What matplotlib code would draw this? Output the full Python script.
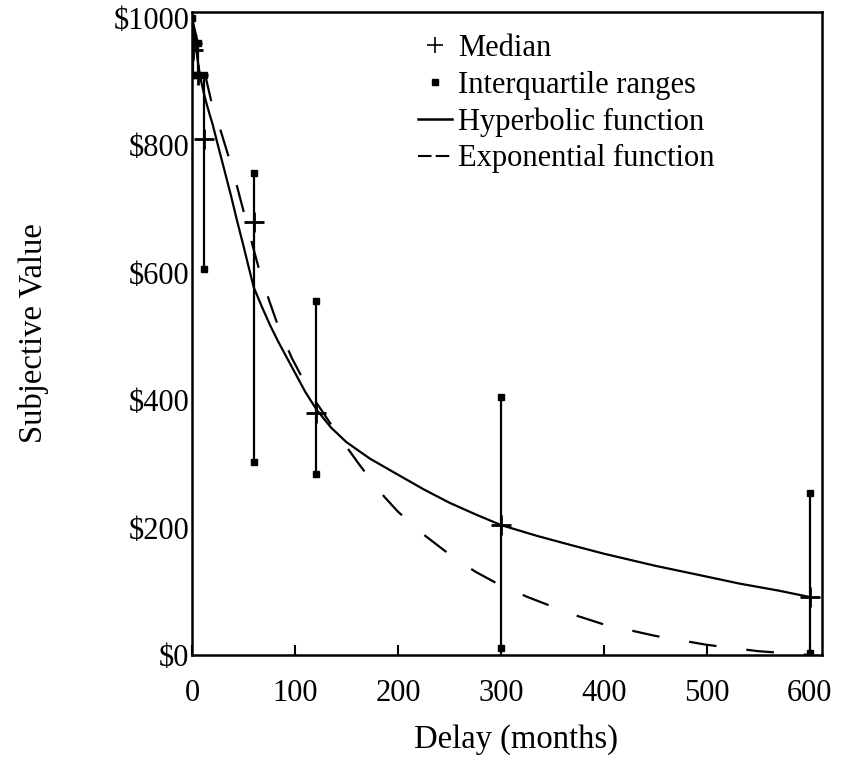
import numpy as np
import matplotlib
matplotlib.use('Agg')
import matplotlib.pyplot as plt
from matplotlib.lines import Line2D

plt.rcParams['font.family'] = ['Liberation Serif', 'DejaVu Serif']

# delays in months and medians / quartiles
delays = [0.25, 1, 6, 12, 60, 120, 300, 600]
median = [960, 950, 910, 810, 680, 380, 204, 91]
q1 = [910, 910, 910, 605, 303, 284, 11, 3]
q3 = [1000, 970, 960, 910, 757, 556, 405, 254]

# fitted curves
hyp_d = [0, 2, 4, 6, 8, 11, 14, 17, 20, 25, 30, 34, 38, 44, 50, 55, 60, 68, 76, 84, 92,
         100, 110, 121, 135, 150, 173, 200, 225, 250, 275, 300, 335, 367, 400, 450,
         500, 532, 570, 600]
hyp_v = [1000, 975, 950, 928, 907, 885, 866, 849, 833, 801, 770, 745, 720, 680, 642, 609,
         577, 546, 517, 491, 467, 443, 413, 385, 357, 334, 308, 283, 260, 239, 221,
         204, 187, 173, 159, 140, 123, 112, 101, 91]
exp_d = [0, 5, 10, 15, 20, 28, 35, 43, 50, 58, 65, 75, 85, 97, 110, 120, 130, 140, 150,
         162, 175, 187, 200, 225, 250, 275, 300, 326, 350, 375, 400, 450, 500, 550, 600]
exp_v = [1000, 965, 930, 895, 860, 822, 785, 740, 697, 648, 606, 556, 510, 466, 426, 398,
         374, 350, 327, 300, 272, 248, 225, 189, 158, 131, 109, 91, 76, 61, 48, 30,
         16, 6, 0]

fig = plt.figure(figsize=(8.41, 7.65), dpi=100)
ax = fig.add_axes([0.2283, 0.1438, 0.7491, 0.8405])

ax.plot(hyp_d, hyp_v, color='black', lw=1.6)
ax.plot(exp_d, exp_v, color='black', lw=1.6, dashes=(12.5, 13.5))

ax.vlines(delays, q1, q3, color='black', lw=1.6)
ax.plot(delays, q1, ls='none', marker='s', ms=4.5, color='black')
ax.plot(delays, q3, ls='none', marker='s', ms=4.5, color='black')
ax.plot(delays, median, ls='none', marker='+', ms=14, mew=2, color='black')

ax.set_xlim(0, 612)
ax.set_ylim(0, 1009)
ax.set_xticks([0, 100, 200, 300, 400, 500, 600])
ax.set_yticks([0, 200, 400, 600, 800, 1000])
ax.set_yticklabels(['$0', '$200', '$400', '$600', '$800', '$1000'])
ax.tick_params(axis='x', direction='in', length=7, width=1.5, labelsize=22, pad=17)
ax.tick_params(axis='y', length=0, labelsize=22, pad=2)
for s in ax.spines.values():
    s.set_linewidth(1.8)

ax.set_xlabel('Delay (months)', fontsize=23.5)
ax.xaxis.set_label_coords(0.514, -0.108)
ax.set_ylabel('Subjective Value', fontsize=23.5, labelpad=46)

handles = [
    Line2D([], [], ls='none', marker='+', ms=12, mew=1.2, color='black'),
    Line2D([], [], ls='none', marker='s', ms=5, color='black'),
    Line2D([], [], color='black', lw=1.8),
    Line2D([], [], color='black', lw=1.5, dashes=(6.5, 2)),
]
labels = ['Median', 'Interquartile ranges', 'Hyperbolic function', 'Exponential function']
ax.legend(handles, labels, loc='upper left', bbox_to_anchor=(0.34, 0.985),
          frameon=False, fontsize=22, handlelength=1.1, handletextpad=0.2,
          labelspacing=0.25, borderaxespad=0)

fig.savefig('out.png', dpi=100)
